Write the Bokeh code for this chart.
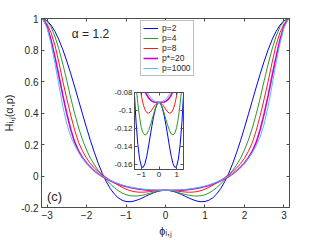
import math
from bokeh.plotting import figure
from bokeh.models import Range1d, FixedTicker, LinearAxis, Label, Legend, LegendItem
from bokeh.layouts import column
from bokeh.embed import file_html
from bokeh.resources import INLINE

# ---- data (phi >= 0; curves are symmetric in phi) ----
PHI = [0.0, 0.1, 0.2, 0.3, 0.4, 0.5, 0.6, 0.7, 0.8, 0.9, 1.0, 1.1, 1.2, 1.3, 1.4, 1.5,
       1.6, 1.7, 1.8, 1.9, 2.0, 2.1, 2.2, 2.3, 2.4, 2.5, 2.6, 2.7, 2.8, 2.9, 3.0, 3.1, 3.1416]

H_P2 = [-0.0909, -0.0927, -0.0980, -0.1062, -0.1168, -0.1286, -0.1406, -0.1513, -0.1594,
        -0.1634, -0.1620, -0.1539, -0.1380, -0.1134, -0.0796, -0.0363, 0.0163, 0.0778,
        0.1474, 0.2238, 0.3057, 0.3912, 0.4784, 0.5652, 0.6494, 0.7287, 0.8012, 0.8646,
        0.9175, 0.9581, 0.9855, 0.9988, 1.0]
H_P4 = [-0.0909, -0.0925, -0.0970, -0.1035, -0.1105, -0.1170, -0.1225, -0.1262, -0.1272,
        -0.1252, -0.1190, -0.1080, -0.0925, -0.0730, -0.0500, -0.0245, 0.0035, 0.035,
        0.070, 0.112, 0.165, 0.228, 0.305, 0.395, 0.495, 0.605, 0.710, 0.805,
        0.885, 0.947, 0.983, 0.998, 1.0]
H_P8 = [-0.0909, -0.0916, -0.0935, -0.0962, -0.0992, -0.1018, -0.1030, -0.1022, -0.0990,
        -0.0928, -0.0835, -0.0718, -0.0582, -0.0432, -0.0270, -0.0098, 0.0085, 0.028,
        0.050, 0.078, 0.113, 0.157, 0.212, 0.290, 0.385, 0.490, 0.600, 0.720,
        0.830, 0.910, 0.965, 0.996, 1.0]
H_P20 = [-0.0909, -0.0909, -0.0908, -0.0905, -0.0896, -0.0880, -0.0857, -0.0825, -0.0783,
         -0.0732, -0.0670, -0.0598, -0.0513, -0.0415, -0.0302, -0.0175, -0.0030, 0.0135,
         0.0325, 0.0555, 0.083, 0.116, 0.157, 0.215, 0.295, 0.395, 0.510, 0.635,
         0.755, 0.865, 0.950, 0.995, 1.0]
H_P1000 = [-0.0909, -0.0907, -0.0900, -0.0888, -0.0870, -0.0848, -0.0820, -0.0787, -0.0745,
           -0.0695, -0.0635, -0.0565, -0.0483, -0.0388, -0.0278, -0.0153, -0.0013, 0.0145,
           0.033, 0.055, 0.081, 0.112, 0.149, 0.193, 0.250, 0.330, 0.440, 0.575,
           0.715, 0.840, 0.940, 0.993, 1.0]

SERIES = ["p=2", "p=4", "p=8", "p*=20", "p=1000"]
COLORS = ["#0000ff", "#2a9a2a", "#ff1a1a", "#d000d0", "#4dbeee"]
WIDTHS = [1.0, 1.0, 1.0, 1.6, 1.0]
VALUES = [H_P2, H_P4, H_P8, H_P20, H_P1000]

X_TICKS = [-3, -2, -1, 0, 1, 2, 3]
Y_TICKS = [-0.2, 0, 0.2, 0.4, 0.6, 0.8, 1]
Y_LABELS = ["-0.2", "0", "0.2", "0.4", "0.6", "0.8", "1"]
IX_TICKS = [-1, 0, 1]
IY_TICKS = [-0.16, -0.14, -0.12, -0.1, -0.08]
IY_LABELS = ["-0.16", "-0.14", "-0.12", "-0.1", "-0.08"]
X_LABEL = "ϕᵢ‚ⱼ"
Y_LABEL = "Hᵢ‚ⱼ(α,p)"

phi_full = [-v for v in reversed(PHI[1:])] + PHI


def mirror(vals):
    return list(reversed(vals[1:])) + vals


FONT = "Liberation Sans"
TXT = "#262626"
AXC = "#4d4d4d"


def style_axis(ax, ticks, size, overrides=None, show=True):
    ax.ticker = FixedTicker(ticks=ticks)
    ax.major_tick_in = 3
    ax.major_tick_out = 0
    ax.minor_tick_line_color = None
    ax.axis_line_color = AXC
    ax.major_tick_line_color = AXC
    ax.major_label_text_font = FONT
    if show:
        ax.major_label_text_color = TXT
        ax.major_label_text_font_size = size
        ax.major_label_standoff = 3
    else:
        ax.major_label_text_color = None
        ax.major_label_text_font_size = "1px"
        ax.major_label_standoff = 0
    if overrides:
        ax.major_label_overrides = overrides


# ---- main figure ----
p = figure(width=320, height=240, output_backend="svg", toolbar_location=None,
           x_range=Range1d(-3.1416, 3.1416), y_range=Range1d(-0.2, 1.0),
           min_border_left=41, min_border_right=31, min_border_top=18, min_border_bottom=33)
p.grid.visible = False
p.outline_line_color = AXC
p.background_fill_color = "white"
p.border_fill_color = "white"

style_axis(p.xaxis[0], X_TICKS, "10px")
style_axis(p.yaxis[0], Y_TICKS, "10px", dict(zip(Y_TICKS, Y_LABELS)))
for ax, lab in ((p.xaxis[0], X_LABEL), (p.yaxis[0], Y_LABEL)):
    ax.axis_label = lab
    ax.axis_label_text_font = FONT
    ax.axis_label_text_font_size = "11px"
    ax.axis_label_text_font_style = "normal"
    ax.axis_label_text_color = TXT
    ax.axis_label_standoff = 3
top_ax = LinearAxis()
style_axis(top_ax, X_TICKS, "1px", show=False)
p.add_layout(top_ax, "above")
right_ax = LinearAxis()
style_axis(right_ax, Y_TICKS, "1px", show=False)
p.add_layout(right_ax, "right")

items = []
for name, col, w, vals in zip(SERIES, COLORS, WIDTHS, VALUES):
    r = p.line(phi_full, mirror(vals), line_color=col, line_width=w)
    items.append(LegendItem(label=name, renderers=[r]))

legend = Legend(items=items, location=(99, 131), label_text_font=FONT,
                label_text_font_size="8.5px", label_text_color=TXT,
                glyph_width=15, glyph_height=8, label_height=8, spacing=0,
                padding=2, margin=0, label_standoff=4,
                border_line_color="#7f7f7f", border_line_width=1,
                background_fill_color="white", background_fill_alpha=1)
p.add_layout(legend)

p.add_layout(Label(x=49, y=174, x_units="screen", y_units="screen", text="α = 1.2",
                   text_align="center", text_baseline="middle", text_font=FONT,
                   text_font_size="12px", text_color=TXT))
p.add_layout(Label(x=13, y=11, x_units="screen", y_units="screen", text="(c)",
                   text_align="center", text_baseline="middle", text_font=FONT,
                   text_font_size="13px", text_color=TXT))

# ---- inset ----
q = figure(width=121, height=93, output_backend="svg", toolbar_location=None,
           x_range=Range1d(-1.39, 1.39), y_range=Range1d(-0.1656, -0.08),
           min_border_left=27, min_border_right=3, min_border_top=3, min_border_bottom=13)
q.grid.visible = False
q.outline_line_color = AXC
q.background_fill_color = "white"
q.border_fill_alpha = 0
q.margin = (-151, 0, 0, 93)
style_axis(q.xaxis[0], IX_TICKS, "8px")
style_axis(q.yaxis[0], IY_TICKS, "8px", dict(zip(IY_TICKS, IY_LABELS)))
q.xaxis[0].major_label_standoff = 2
q.yaxis[0].major_label_standoff = 2
qt = LinearAxis()
style_axis(qt, IX_TICKS, "1px", show=False)
q.add_layout(qt, "above")
qr = LinearAxis()
style_axis(qr, IY_TICKS, "1px", show=False)
q.add_layout(qr, "right")
for col, w, vals in zip(COLORS, WIDTHS, VALUES):
    q.line(phi_full, mirror(vals), line_color=col, line_width=w)

layout = column(p, q)
open("out.html", "w").write(file_html(layout, INLINE))
